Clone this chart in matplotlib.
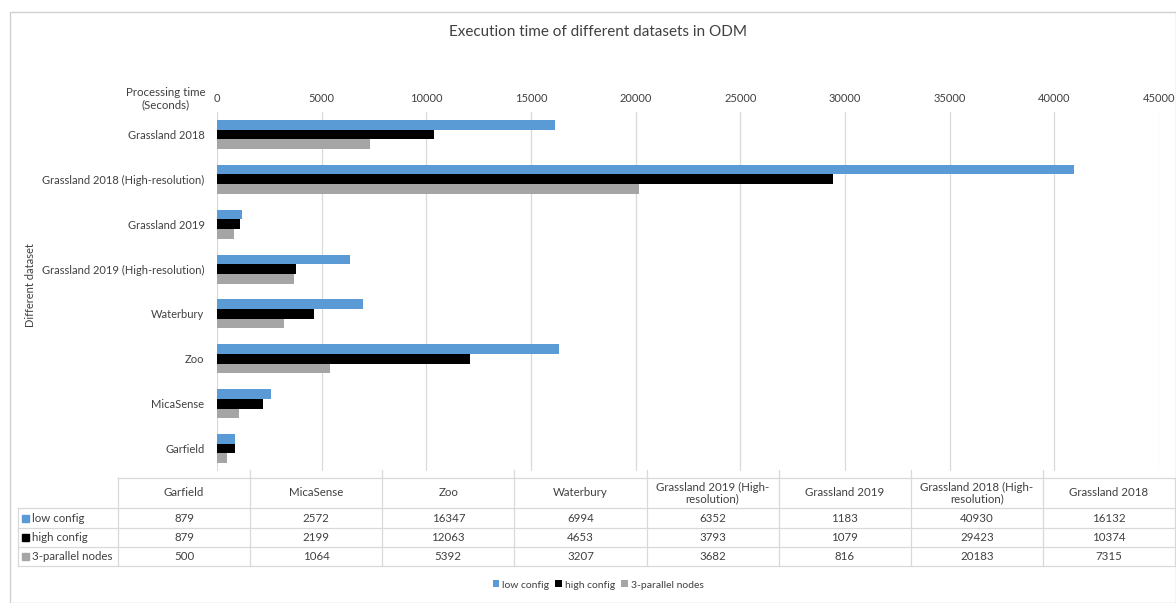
import numpy as np
import matplotlib
matplotlib.use('Agg')
import matplotlib.pyplot as plt
from matplotlib.patches import Rectangle
from matplotlib.lines import Line2D

plt.rcParams['font.family'] = ['Lato', 'DejaVu Sans']

datasets = ['Garfield', 'MicaSense', 'Zoo', 'Waterbury',
            'Grassland 2019 (High-resolution)', 'Grassland 2019',
            'Grassland 2018 (High-resolution)', 'Grassland 2018']
table_heads = ['Garfield', 'MicaSense', 'Zoo', 'Waterbury',
               'Grassland 2019 (High-\nresolution)', 'Grassland 2019',
               'Grassland 2018 (High-\nresolution)', 'Grassland 2018']
low_config = [879, 2572, 16347, 6994, 6352, 1183, 40930, 16132]
high_config = [879, 2199, 12063, 4653, 3793, 1079, 29423, 10374]
parallel_nodes = [500, 1064, 5392, 3207, 3682, 816, 20183, 7315]
series_names = ['low config', 'high config', '3-parallel nodes']
colors = ['#5B9BD5', '#000000', '#A5A5A5']

W, H = 1176, 603
fig = plt.figure(figsize=(W / 100, H / 100), dpi=100)
txt = '#404040'
grid_c = '#D9D9D9'


def fx(x):
    return x / W


def fy(y):
    return 1 - y / H


# chart border
fig.patches.append(Rectangle((fx(10), 0), 1 - fx(10), fy(12), transform=fig.transFigure,
                             fill=False, edgecolor='#D0D0D0', linewidth=1))

ax = fig.add_axes([fx(217), fy(471), fx(1159) - fx(217), fy(112) - fy(471)])
y = np.arange(len(datasets))
h = 0.215
series = [low_config, high_config, parallel_nodes]
for k, (vals, c) in enumerate(zip(series, colors)):
    ax.barh(y + (1 - k) * h, vals, height=h, color=c, label=series_names[k], zorder=3)

ax.set_xlim(0, 45000)
ax.set_ylim(-0.5, len(datasets) - 0.5)
ax.set_xticks(np.arange(0, 45001, 5000))
ax.xaxis.tick_top()
ax.tick_params(axis='x', length=0, pad=6, labelsize=8, labelcolor=txt)
ax.set_yticks(y)
ax.set_yticklabels(datasets)
ax.tick_params(axis='y', length=0, pad=9, labelsize=8, labelcolor=txt)
ax.grid(axis='x', color=grid_c, linewidth=0.9, zorder=0)
for s in ax.spines.values():
    s.set_visible(False)

fig.text(fx(166), fy(99), 'Processing time\n(Seconds)', ha='center', va='center',
         fontsize=8.3, color=txt, linespacing=1.15)
fig.text(fx(31), fy(285), 'Different dataset', rotation=90, ha='center', va='center',
         fontsize=8, color=txt)
fig.text(fx(598), fy(32), 'Execution time of different datasets in ODM', ha='center',
         va='center', fontsize=11, color=txt)

# data table
x0, x1 = 118, 1175
lab_x = 18
cw = (x1 - x0) / len(datasets)
ys = [478, 508, 528, 547, 566]


def hline(xa, xb, yy):
    fig.add_artist(Line2D([fx(xa), fx(xb)], [fy(yy), fy(yy)], transform=fig.transFigure,
                          color=grid_c, linewidth=0.9))


def vline(xx, ya, yb):
    fig.add_artist(Line2D([fx(xx), fx(xx)], [fy(ya), fy(yb)], transform=fig.transFigure,
                          color=grid_c, linewidth=0.9))


hline(x0, x1, ys[0])
for yy in ys[1:]:
    hline(lab_x, x1, yy)
vline(lab_x, ys[1], ys[-1])
for i in range(len(datasets) + 1):
    xx = x0 + i * cw
    vline(xx, ys[0], ys[-1])
    if 0 < i < len(datasets):
        vline(xx, 470, ys[0])

for i, head in enumerate(table_heads):
    cx = x0 + (i + 0.5) * cw
    fig.text(fx(cx), fy((ys[0] + ys[1]) / 2), head, ha='center', va='center',
             fontsize=8.3, color=txt, linespacing=1.1)
    for r, vals in enumerate(series):
        fig.text(fx(cx), fy((ys[r + 1] + ys[r + 2]) / 2), str(vals[i]), ha='center',
                 va='center', fontsize=8.3, color=txt)

for r, name in enumerate(series_names):
    yc = (ys[r + 1] + ys[r + 2]) / 2
    fig.patches.append(Rectangle((fx(22), fy(yc + 3.5)), fx(7), 7 / H,
                                 transform=fig.transFigure, color=colors[r]))
    fig.text(fx(32), fy(yc), name, ha='left', va='center', fontsize=8.3, color=txt)

fig.legend(loc='center', bbox_to_anchor=(fx(598), fy(585)), ncol=3, frameon=False,
           fontsize=7.5, handlelength=0.65, handleheight=0.65, handletextpad=0.25,
           columnspacing=0.6, labelcolor=txt)

fig.savefig('out.png', dpi=100, facecolor='white')
